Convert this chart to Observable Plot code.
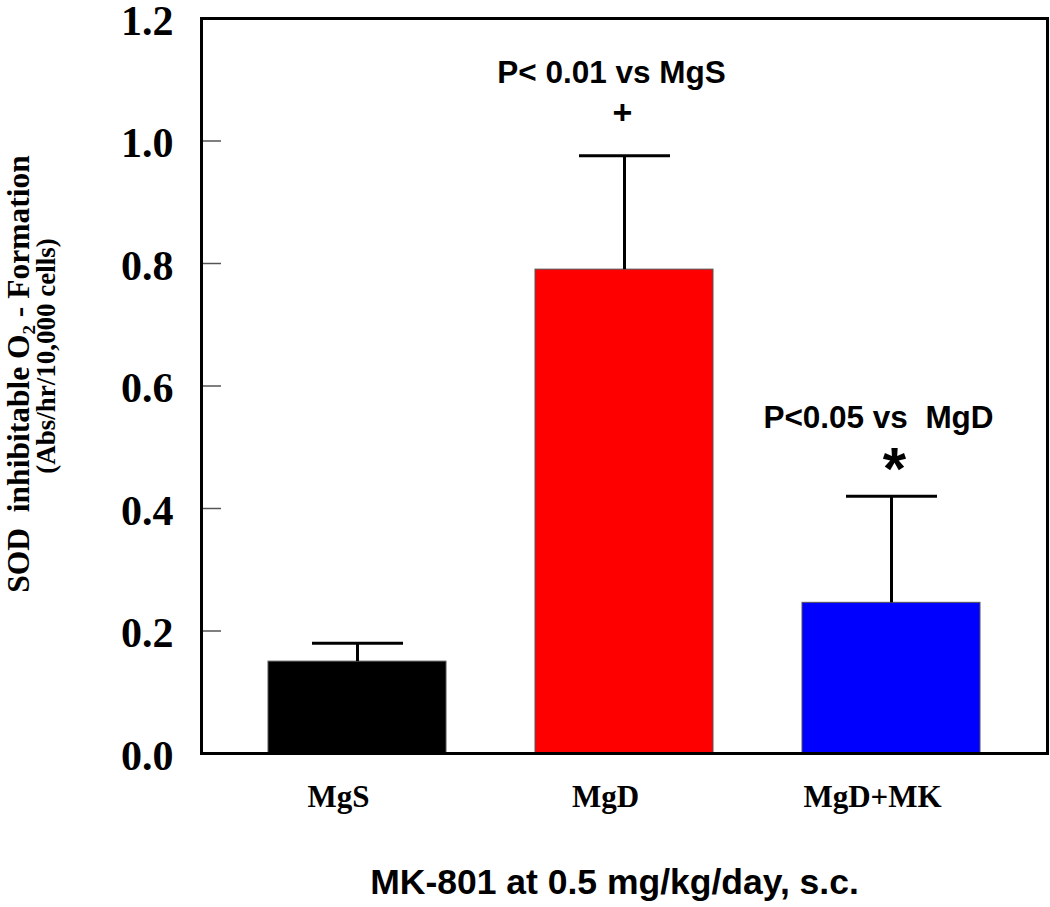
<!DOCTYPE html>
<html>
<head>
<meta charset="utf-8">
<script src="https://cdn.jsdelivr.net/npm/d3@7"></script>
<script src="https://cdn.jsdelivr.net/npm/@observablehq/plot@0.6"></script>
<style>
  html, body { margin: 0; padding: 0; background: #fff; }
  svg text { white-space: pre; }
</style>
</head>
<body>
<div id="chart"></div>
<script>
// ---- data ----
const categories = ["MgS", "MgD", "MgD+MK"];
const means = [0.150, 0.790, 0.246];
const upperErrors = [0.030, 0.186, 0.174];
const yTicks = [0.0, 0.2, 0.4, 0.6, 0.8, 1.0, 1.2];
const barColors = ["#000000", "#ff0000", "#0000ff"];

const noteTexts = ["P< 0.01 vs MgS", "P<0.05 vs  MgD"];
const noteCats = ["MgD", "MgD+MK"];
const noteY = [1.094, 0.531];
const symbolTexts = ["+", "*"];
const symbolCats = ["MgD", "MgD+MK"];
const symbolY = [1.027, 0.432];

const yLabelLine1 = "SOD  inhibitable O\u2082 - Formation";
const yLabelLine2 = "(Abs/hr/10,000 cells)";
const xTitle = "MK-801 at 0.5 mg/kg/day, s.c.";

const rows = categories.map((c, i) => ({cat: c, mean: means[i], hi: means[i] + upperErrors[i]}));
const notes = noteTexts.map((t, i) => ({text: t, cat: noteCats[i], y: noteY[i]}));
const symbols = symbolTexts.map((t, i) => ({text: t, cat: symbolCats[i], y: symbolY[i]}));

const serif = "'Liberation Serif', 'Times New Roman', serif";
const sans = "'Liberation Sans', Arial, sans-serif";

const chart = Plot.plot({
  width: 1050,
  height: 907,
  marginLeft: 201,
  marginRight: 3,
  marginTop: 18,
  marginBottom: 154,
  style: {background: "#fff", color: "#000"},
  x: {domain: categories, paddingInner: 0.332, paddingOuter: 0.245, label: null},
  y: {domain: [0, 1.2], label: null},
  color: {domain: categories, range: barColors},
  marks: [
    Plot.barY(rows, {x: "cat", y: "mean", fill: "cat", stroke: "#555", strokeWidth: 1}),
    Plot.ruleX(rows, {x: "cat", y1: "mean", y2: "hi", stroke: "#000", strokeWidth: 3}),
    Plot.tickY(rows, {x: "cat", y: "hi", stroke: "#000", strokeWidth: 3, insetLeft: 44, insetRight: 43}),
    Plot.axisY(yTicks, {tickSize: 20, dx: 20, stroke: "#555", strokeWidth: 1.5, tickFormat: () => ""}),
    Plot.axisY(yTicks, {tickSize: 0, tickPadding: 28, dy: 3, tickFormat: d3.format(".1f"),
      fontSize: 42, fontWeight: "bold", fontFamily: serif, fill: "#000"}),
    Plot.axisX({tickSize: 0, tickPadding: 31, dx: -19, fontSize: 31, fontWeight: "bold", fontFamily: serif, fill: "#000"}),
    Plot.frame({stroke: "#000", strokeWidth: 3}),
    Plot.text(notes, {x: "cat", y: "y", text: "text", lineAnchor: "bottom", dx: -13,
      fontSize: 31.5, fontWeight: "bold", fontFamily: sans, fill: "#000"}),
    Plot.text(symbols.slice(0, 1), {x: "cat", y: "y", text: "text", lineAnchor: "bottom", dx: -2,
      fontSize: 34, fontWeight: "bold", fontFamily: sans, fill: "#000"}),
    Plot.text(symbols.slice(1), {x: "cat", y: "y", text: "text", lineAnchor: "bottom", dx: 3,
      fontSize: 60, fontWeight: "bold", fontFamily: sans, fill: "#000"}),
    Plot.text([yLabelLine1], {frameAnchor: "left", text: d => d, rotate: -90, textAnchor: "middle", lineAnchor: "bottom",
      dx: -173, dy: -12, fontSize: 31.5, fontWeight: "bold", fontFamily: serif, fill: "#000"}),
    Plot.text([yLabelLine2], {frameAnchor: "left", text: d => d, rotate: -90, textAnchor: "middle", lineAnchor: "bottom",
      dx: -147, dy: -30, fontSize: 27, fontWeight: "bold", fontFamily: serif, fill: "#000"}),
    Plot.text([xTitle], {frameAnchor: "bottom", text: d => d, lineAnchor: "bottom",
      dx: -10, dy: 140, fontSize: 35.5, fontWeight: "bold", fontFamily: sans, fill: "#000"})
  ]
});
document.getElementById("chart").appendChild(chart);
</script>
</body>
</html>
